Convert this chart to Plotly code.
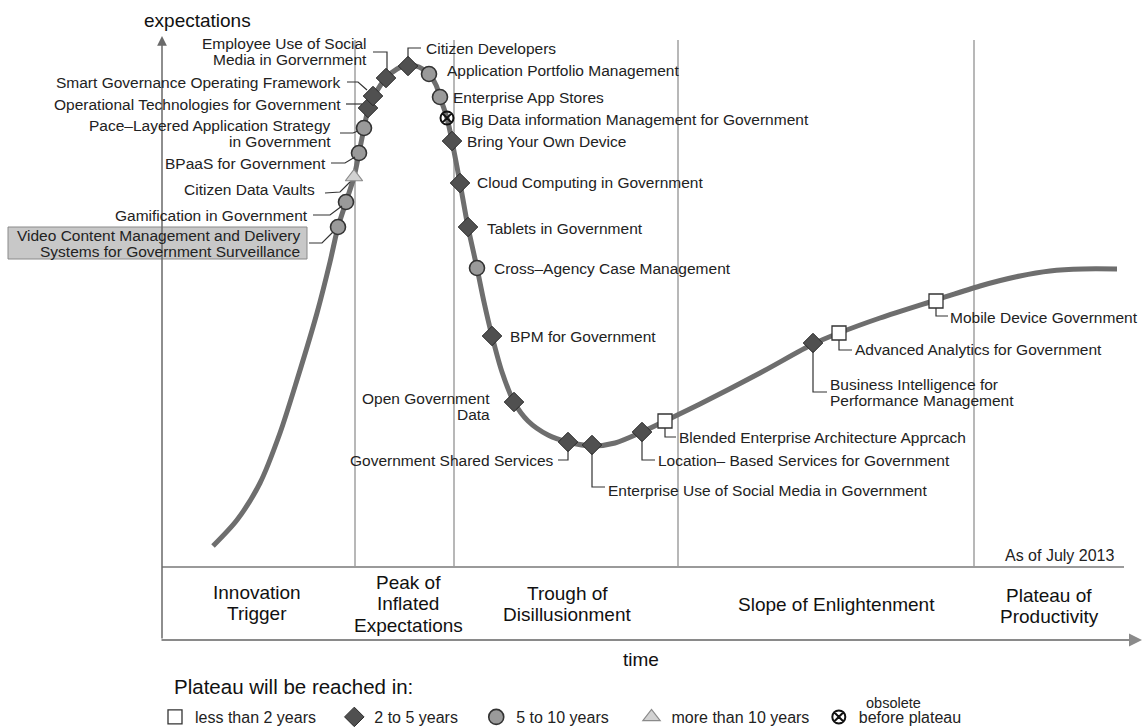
import plotly.graph_objects as go

# ---------------- data ----------------
# curve of the hype cycle (time position, expectation position in chart units; y grows downward)
curve_time = [213, 237, 260, 280, 297, 317, 330, 338, 346, 354, 359, 364, 368, 374, 386, 397, 408,
              419, 429, 436, 440, 447, 452, 460, 468, 477, 484, 492, 502, 514, 528, 548, 568, 592,
              615, 642, 665, 700, 760, 813, 839, 880, 936, 980, 1020, 1050, 1083, 1117]
curve_expect = [546, 520, 483, 433, 380, 313, 262, 227, 202, 177, 153, 128, 110, 96, 78, 69, 65,
                67, 74, 85, 97, 118, 141, 183, 227, 268, 302, 336, 372, 402, 421, 435, 442, 446,
                443, 432, 421, 404, 373, 344, 333, 318, 300, 286, 276, 271, 269, 269]

tech_names = [
    "Video Content Management and Delivery Systems for Government Surveillance",
    "Gamification in Government",
    "Citizen Data Vaults",
    "BPaaS for Government",
    "Pace–Layered Application Strategy in Government",
    "Operational Technologies for Government",
    "Smart Governance Operating Framework",
    "Employee Use of Social Media in Gorvernment",
    "Citizen Developers",
    "Application Portfolio Management",
    "Enterprise App Stores",
    "Big Data information Management for Government",
    "Bring Your Own Device",
    "Cloud Computing in Government",
    "Tablets in Government",
    "Cross–Agency Case Management",
    "BPM for Government",
    "Open Government Data",
    "Government Shared Services",
    "Enterprise Use of Social Media in Government",
    "Location– Based Services for Government",
    "Blended Enterprise Architecture Apprcach",
    "Business Intelligence for Performance Management",
    "Advanced Analytics for Government",
    "Mobile Device Government",
]
tech_time = [338, 346, 354, 359, 364, 368, 373, 386, 408, 429, 440, 447, 452, 460, 468, 477,
             492, 514, 568, 592, 642, 665, 813, 839, 936]
tech_expect = [227, 202, 177, 153, 128, 108, 96, 78, 66, 74, 97, 118, 141, 183, 227, 268,
               336, 402, 442, 445, 432, 421, 343, 333, 301]
tech_plateau = ["5-10", "5-10", ">10", "5-10", "5-10", "2-5", "2-5", "2-5", "2-5", "5-10",
                "5-10", "obsolete", "2-5", "2-5", "2-5", "5-10", "2-5", "2-5", "2-5", "2-5",
                "2-5", "<2", "2-5", "<2", "<2"]

plateau_keys = ["<2", "2-5", "5-10", ">10", "obsolete"]
plateau_labels = ["less than 2 years", "2 to 5 years", "5 to 10 years", "more than 10 years", "before plateau"]

phase_names = [["Innovation", "Trigger"], ["Peak of", "Inflated", "Expectations"],
               ["Trough of", "Disillusionment"], ["Slope of Enlightenment"], ["Plateau of", "Productivity"]]

# ---------------- styles / layout ----------------
W, H = 1147, 727
FONT = "Liberation Sans, Arial, sans-serif"
TXT = "#222222"
NB = "\u00a0"

marker_style = {
    "<2": dict(symbol="square", size=14, color="white", line=dict(color="#333333", width=1.3)),
    "2-5": dict(symbol="diamond", size=15, color="#505050", line=dict(color="#2a2a2a", width=1)),
    "5-10": dict(symbol="circle", size=15, color="#9a9a9a", line=dict(color="#333333", width=1.6)),
    ">10": dict(symbol="triangle-up", size=15, color="#d2d2d2", line=dict(color="#8a8a8a", width=1.2)),
    "obsolete": dict(symbol="circle-x-open", size=13, color="#111111", line=dict(color="#111111", width=2)),
}
legend_pad = {"<2": 3, "2-5": 3, "5-10": 4, ">10": 1, "obsolete": 0}

# label placement: name -> (x, first-line y, anchor, connector points)
label_layout = {
    tech_names[0]: (302, 235, "right", [(309, 243), (322, 243), (333, 232)]),
    tech_names[1]: (310, 215, "right", [(313, 215), (330, 215), (342, 206)]),
    tech_names[2]: (317, 189, "right", [(325, 193), (340, 192), (350, 182)]),
    tech_names[3]: (328, 163, "right", [(331, 163), (345, 163), (355, 157)]),
    tech_names[4]: (333, 125, "right", [(340, 133), (353, 133), (358, 131)]),
    tech_names[5]: (343, 104, "right", [(346, 104), (362, 104)]),
    tech_names[6]: (343, 82, "right", [(347, 82), (358, 82), (367, 90)]),
    tech_names[7]: (369, 43, "right", [(373, 52), (387, 52), (387, 70)]),
    tech_names[8]: (424, 48, "left", [(408, 58), (408, 48), (421, 48)]),
    tech_names[9]: (445, 70, "left", None),
    tech_names[10]: (451, 97, "left", None),
    tech_names[11]: (459, 119, "left", None),
    tech_names[12]: (465, 141, "left", None),
    tech_names[13]: (475, 182, "left", None),
    tech_names[14]: (485, 228, "left", None),
    tech_names[15]: (492, 268, "left", None),
    tech_names[16]: (508, 336, "left", None),
    tech_names[17]: (492, 398, "right", None),
    tech_names[18]: (556, 460, "right", [(558, 460), (568, 460), (568, 450)]),
    tech_names[19]: (606, 490, "left", [(592, 453), (592, 487), (605, 487)]),
    tech_names[20]: (656, 460, "left", [(642, 440), (642, 460), (655, 460)]),
    tech_names[21]: (677, 437, "left", [(665, 428), (665, 437), (676, 437)]),
    tech_names[22]: (828, 384, "left", [(813, 351), (813, 392), (827, 392)]),
    tech_names[23]: (853, 349, "left", [(839, 340), (839, 350), (852, 350)]),
    tech_names[24]: (948, 317, "left", [(936, 308), (936, 316), (948, 316)]),
}
label_lines = {
    tech_names[0]: ["Video Content Management and Delivery", "Systems for Government Surveillance"],
    tech_names[4]: ["Pace–Layered Application Strategy", "in Government"],
    tech_names[7]: ["Employee Use of Social", "Media in Gorvernment"],
    tech_names[17]: ["Open Government", "Data"],
    tech_names[22]: ["Business Intelligence for", "Performance Management"],
}
phase_pos = [(257, 592), (408, 582), (567, 593), (836, 604), (1049, 595)]

fig = go.Figure()

# hype curve
fig.add_trace(go.Scatter(x=curve_time, y=curve_expect, mode="lines",
                         line=dict(color="#6e6e6e", width=5, shape="spline", smoothing=0.8),
                         hoverinfo="skip", showlegend=False))

# technology markers, one trace per plateau category
for key, lab in zip(plateau_keys, plateau_labels):
    idx = [i for i, c in enumerate(tech_plateau) if c == key]
    st = marker_style[key]
    fig.add_trace(go.Scatter(
        x=[tech_time[i] for i in idx], y=[tech_expect[i] for i in idx],
        mode="markers", name=lab + NB * legend_pad[key], text=[tech_names[i] for i in idx],
        hovertemplate="%{text}<extra>" + lab + "</extra>",
        marker=dict(symbol=st["symbol"], size=st["size"], color=st["color"], line=st["line"]),
    ))

shapes = []
annotations = []

# phase divider lines and frame
for xd in [355, 454, 678, 974]:
    shapes.append(dict(type="line", x0=xd, x1=xd, y0=40, y1=567, xref="x", yref="y",
                       line=dict(color="#a0a0a0", width=1.5), layer="below"))
shapes.append(dict(type="line", x0=162, x1=1124, y0=567, y1=567, xref="x", yref="y",
                   line=dict(color="#9a9a9a", width=2), layer="below"))
# video content box
shapes.append(dict(type="rect", x0=8, x1=307, y0=227, y1=259, xref="x", yref="y",
                   fillcolor="#c8c8c8", line=dict(color="#8a8a8a", width=1), layer="below"))

# axes with arrows
annotations.append(dict(x=162, y=36, ax=162, ay=640, xref="x", yref="y", axref="x", ayref="y",
                        text="", showarrow=True, arrowhead=2, arrowsize=1.3, arrowwidth=1.5,
                        arrowcolor="#6a6a6a"))
annotations.append(dict(x=1142, y=640, ax=160, ay=640, xref="x", yref="y", axref="x", ayref="y",
                        text="", showarrow=True, arrowhead=2, arrowsize=1.3, arrowwidth=2,
                        arrowcolor="#8a8a8a"))

# connectors + labels
for name in tech_names:
    lx, ly, anchor, conn = label_layout[name]
    lines = label_lines.get(name, [name])
    for k, line in enumerate(lines):
        annotations.append(dict(x=lx, y=ly + 16 * k, xref="x", yref="y", text=line, showarrow=False,
                                xanchor=anchor, yanchor="middle", font=dict(family=FONT, size=15.5, color=TXT)))
    if conn:
        path = "M " + " L ".join(f"{px},{py}" for px, py in conn)
        shapes.append(dict(type="path", path=path, xref="x", yref="y",
                           line=dict(color="#333333", width=1.2)))

# phase names
for lines, (px, py) in zip(phase_names, phase_pos):
    for k, line in enumerate(lines):
        annotations.append(dict(x=px, y=py + 21.5 * k, xref="x", yref="y", text=line, showarrow=False,
                                xanchor="center", yanchor="middle",
                                font=dict(family=FONT, size=19, color="#111111")))

annotations += [
    dict(x=197, y=20, xref="x", yref="y", text="expectations", showarrow=False,
         font=dict(family=FONT, size=19, color="#111111")),
    dict(x=641, y=659, xref="x", yref="y", text="time", showarrow=False,
         font=dict(family=FONT, size=19, color="#111111")),
    dict(x=1117, y=555, xref="x", yref="y", text="As of July 2013", showarrow=False, xanchor="right",
         font=dict(family=FONT, size=16, color=TXT)),
    dict(x=172, y=686, xref="x", yref="y", text="Plateau will be reached in:", showarrow=False,
         xanchor="left", font=dict(family=FONT, size=20.5, color="#111111")),
    dict(x=893, y=703, xref="x", yref="y", text="obsolete", showarrow=False, xanchor="center",
         font=dict(family=FONT, size=14.5, color=TXT)),
]

fig.update_layout(
    width=W, height=H, autosize=False,
    margin=dict(l=0, r=0, t=0, b=0, autoexpand=False),
    paper_bgcolor="white", plot_bgcolor="white",
    xaxis=dict(range=[0, W], visible=False, fixedrange=True),
    yaxis=dict(range=[H, 0], visible=False, fixedrange=True),
    shapes=shapes, annotations=annotations,
    showlegend=True,
    legend=dict(orientation="h", x=155 / W, y=(H - 717) / H, xref="container", yref="container",
                xanchor="left", yanchor="middle",
                font=dict(family=FONT, size=16, color=TXT), bgcolor="rgba(0,0,0,0)",
                itemsizing="trace"),
)

fig.write_html("out.html", config={"displayModeBar": False},
               post_script="document.body.style.margin='0';")
